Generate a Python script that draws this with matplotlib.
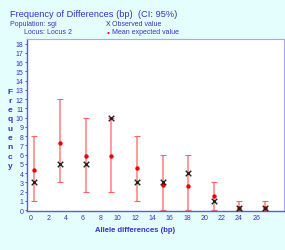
import matplotlib
matplotlib.use("Agg")
import matplotlib.pyplot as plt

plt.rcParams["font.family"] = ["Liberation Sans", "DejaVu Sans"]

# allele differences (bp) for each class
diff_bp = [0.4, 3.3, 6.3, 9.2, 12.2, 15.2, 18.1, 21.1, 24.0, 27.0]
observed = [3, 5, 5, 10, 3, 3, 4, 1, 0.2, 0.2]
mean_expected = [4.3, 7.2, 5.9, 5.9, 4.5, 2.7, 2.6, 1.5, 0.2, 0.2]
ci_low = [1, 3, 2, 2, 1, 0, 0, 0, 0, 0]
ci_high = [8, 12, 10, 10, 8, 6, 6, 3, 1, 1]

x_ticks = list(range(0, 27, 2))
y_ticks = list(range(0, 19))

blue = "#3434c4"
bg = "#e4fdfd"

fig = plt.figure(figsize=(2.85, 2.51), dpi=100, facecolor=bg)
ax = fig.add_axes([27 / 285, 39 / 251, 257 / 285, 172 / 251])
ax.set_facecolor("white")

ax.vlines(diff_bp, ci_low, ci_high, color="#ff9a9a", lw=1.4, zorder=2)
ax.scatter(diff_bp, ci_low, marker="_", s=14, color="#ff6060", lw=0.8, zorder=2)
ax.scatter(diff_bp, ci_high, marker="_", s=14, color="#ff6060", lw=0.8, zorder=2)
ax.scatter(diff_bp, mean_expected, marker="o", s=10, color="#ee0000", lw=0, zorder=3)
ax.scatter(diff_bp, observed, marker="x", s=16, color="#222222", lw=1.0, zorder=4, clip_on=False)

ax.set_xlim(-0.46, 29.2)
ax.set_ylim(-0.1, 18.5)
ax.set_xticks(x_ticks)
ax.set_yticks(y_ticks)
ax.tick_params(axis="both", colors=blue, labelsize=5, length=1.5, width=0.6, pad=1)
ax.tick_params(axis="x", length=0, pad=2.5)

for side in ["left", "bottom"]:
    ax.spines[side].set_color("#5a5af0")
    ax.spines[side].set_linewidth(1.0)
for side in ["top", "right"]:
    ax.spines[side].set_color("#a8a8f0")
    ax.spines[side].set_linewidth(0.8)

ax.set_xlabel("Allele differences (bp)", color=blue, fontsize=5.5, fontweight="bold")
ax.xaxis.set_label_coords((135 - 27) / 257, -0.085)

# vertical stacked y label
for i, ch in enumerate("Frequency"):
    fig.text(10 / 285, 1 - (92 + i * 9.3) / 251, ch, color=blue, fontsize=6,
             fontweight="bold", ha="center", va="center")

fig.text(10 / 285, 1 - 15 / 251, "Frequency of Differences (bp)  (CI: 95%)", color=blue,
         fontsize=6.7, fontweight="medium", ha="left", va="center")
fig.text(10 / 285, 1 - 24.5 / 251, "Population: sgi", color=blue, fontsize=5, ha="left", va="center")
fig.text(24 / 285, 1 - 33 / 251, "Locus: Locus 2", color=blue, fontsize=5, ha="left", va="center")
fig.text(106 / 285, 1 - 24.5 / 251, "X", color="#333333", fontsize=5, ha="left", va="center")
fig.text(112 / 285, 1 - 24.5 / 251, "Observed value", color=blue, fontsize=5, ha="left", va="center")
fig.text(107 / 285, 1 - 33 / 251, "\u2022", color="#ee0000", fontsize=6, ha="left", va="center")
fig.text(112 / 285, 1 - 33 / 251, "Mean expected value", color=blue, fontsize=5, ha="left", va="center")

fig.savefig("out.png", dpi=100, facecolor=bg)
